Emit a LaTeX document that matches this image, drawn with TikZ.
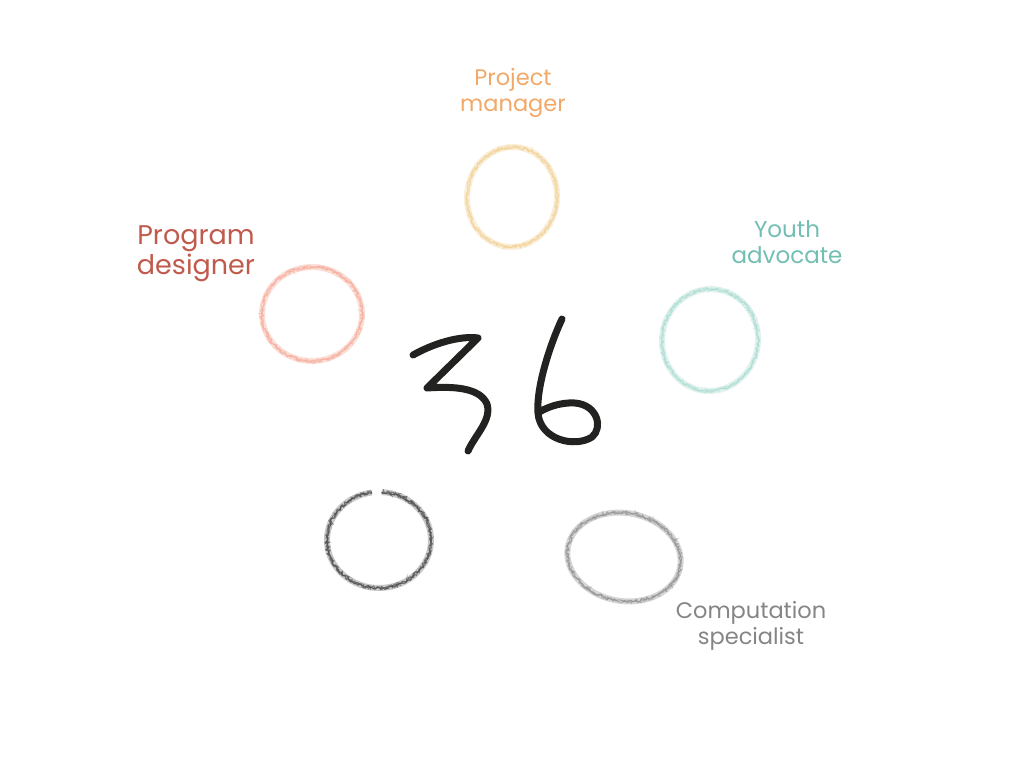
\documentclass[tikz,border=0pt]{standalone}
\usepackage{fontspec}
\setmainfont{Poppins}
\usetikzlibrary{decorations.pathmorphing}

% palette
\definecolor{pmtext}{HTML}{F2A868}
\definecolor{pmring}{HTML}{F0CE8E}
\definecolor{pdtext}{HTML}{C05A4C}
\definecolor{pdring}{HTML}{F4A592}
\definecolor{yatext}{HTML}{72BEB2}
\definecolor{yaring}{HTML}{A6D9CE}
\definecolor{cstext}{HTML}{858585}
\definecolor{csring}{HTML}{8A8A8A}
\definecolor{darkring}{HTML}{4A4A4A}
\definecolor{ink}{HTML}{222220}

% a chalky ring: a soft wide stroke plus a few jittered thin strokes
\newcommand\chalkring[6]{%
  \begin{scope}[shift={(#2)}, rotate=#5]
    \draw[#1, opacity=0.35, line width=6pt] (0,0) ellipse[x radius=#3, y radius=#4];
    \foreach \w/\o in {1.1/0.55, 0.9/0.5, 0.8/0.45}{
      \draw[#1, opacity=\o, line width=\w pt, #6,
            decorate, decoration={random steps, segment length=1.6pt, amplitude=1.8pt}]
        (0,0) ellipse[x radius=#3, y radius=#4];
    }
  \end{scope}}

\begin{document}
\begin{tikzpicture}[x=1pt, y=-1pt,
  label1/.style={align=center, inner sep=0pt},
  numstroke/.style={draw=ink, line width=7pt, line cap=round, line join=round}]
\useasboundingbox (0,0) rectangle (1024,768);
\pgfmathsetseed{42}

% role labels
\node[label1, text=pmtext, font=\fontsize{22.5}{26}\selectfont] (pm) at (513,93) {Project\\manager};
\node[label1, text=pdtext, font=\fontsize{27}{30}\selectfont] (pd) at (196,254) {Program\\designer};
\node[label1, text=yatext, font=\fontsize{23}{26}\selectfont] (ya) at (787,242) {Youth\\advocate};
\node[label1, text=cstext, font=\fontsize{22.5}{26}\selectfont] (cs) at (751,626) {Computation\\specialist};

% rings
\chalkring{pmring}{512,197}{45}{50}{-5}{}
\chalkring{pdring}{312,314}{50}{47}{0}{}
\chalkring{yaring}{710,340}{48}{51}{-8}{}
\chalkring{csring}{624,557}{57}{44}{-10}{}

% dark ring, left open near the top
\begin{scope}[shift={(379,540)}]
  \draw[darkring, opacity=0.3, line width=6pt]
    (-87:52 and 48) arc[start angle=-87, end angle=262, x radius=52, y radius=48];
  \foreach \w/\o in {1.2/0.7, 1.0/0.6, 0.8/0.55}{
    \draw[darkring, opacity=\o, line width=\w pt,
          decorate, decoration={random steps, segment length=1.6pt, amplitude=1.8pt}]
      (-87:52 and 48) arc[start angle=-87, end angle=262, x radius=52, y radius=48];
  }
\end{scope}

% handwritten 36
\draw[numstroke] (413,355) .. controls (440,340) and (465,336) .. (478,338)
  -- (427,388) .. controls (455,386) and (480,388) .. (487,404)
  .. controls (492,420) and (475,435) .. (468,451);
\draw[numstroke] (562,319) .. controls (552,340) and (536,385) .. (538,413)
  .. controls (540,440) and (575,448) .. (592,437)
  .. controls (603,428) and (598,405) .. (575,403)
  .. controls (560,402) and (545,408) .. (538,413);
\end{tikzpicture}
\end{document}
